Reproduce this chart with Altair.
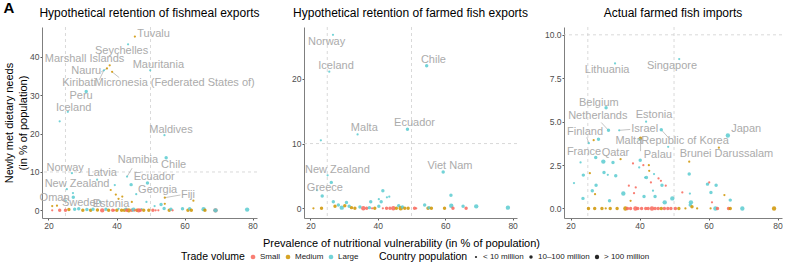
import altair as alt
import pandas as pd

FONT = "Liberation Sans"

# ---- shared categories -------------------------------------------------
trade_levels = ["Small", "Medium", "Large"]
trade_colors = ["#F8675A", "#CF9400", "#5ACBD0"]
trade_codes = {"S": "Small", "M": "Medium", "L": "Large"}
pop_levels = ["< 10 million", "10–100 million", "> 100 million"]
pop_areas = [5, 19, 44]

vuln_thresholds = [25, 50]   # prevalence cut-offs (%)
need_threshold = [10]        # newly met needs cut-off (%)

# ---- panel 1: fishmeal exports retained --------------------------------
p1_x = [45.4, 43.4, 38.0, 37.2, 36.3, 38.7, 49.9, 31.1, 25.7, 23.3, 54.1, 54.6, 43.1, 26.9,
        34.3, 25.4, 27.2, 44.3, 49.1, 39.5, 38.3, 45.8, 54.2, 62.6, 27.3, 41.7, 40.6, 39.8,
        44.5, 48.8, 51.2, 53.1, 54.2, 35.2, 25.1, 21.1, 22.5,
        21.1, 23.3, 25.0, 26.0, 27.7, 28.9, 30.1, 31.3, 32.4, 33.1, 34.4, 35.8, 36.9, 37.7,
        38.9, 40.1, 40.6, 41.5, 42.3, 42.8, 43.6, 44.5, 45.0, 46.0, 46.5, 47.4, 48.0, 49.5,
        50.7, 51.5, 54.0, 55.5, 56.0, 56.5, 59.4, 61.0, 61.5, 62.0, 65.6, 66.0, 69.1, 69.1,
        78.4, 39.3, 43.0, 45.3, 47.0, 52.3]
p1_y = [45.3, 43.3, 37.8, 37.0, 36.5, 36.1, 36.5, 31.0, 25.7, 23.2, 19.6, 13.7, 8.8, 9.7,
        8.0, 5.5, 4.5, 6.7, 7.1, 6.6, 5.3, 4.2, 3.3, 2.5, 3.4, 3.6, 3.0, 4.1,
        2.2, 2.2, 1.1, 1.5, 1.7, 2.2, 2.5, 1.1, 1.2,
        0.0, 0.0, 0.0, 0.2, 0.3, 0.4, 0.0, 0.2, 0.0, 0.3, 0.1, 0.0, 0.3, 0.0,
        0.0, 0.0, 0.4, 0.0, 0.0, 0.3, 0.0, 0.0, 0.2, 0.0, 0.0, 0.3, 0.0, 0.0,
        0.0, 0.0, 0.5, 0.0, 0.3, 0.0, 0.4, 0.0, 0.4, 0.0, 0.3, 0.0, 0.0, 0.0,
        0.2, 0.0, 0.0, 0.0, 0.0, 0.0]
p1_trade = list("MLMMLMLLLLLLLLLLLLLLMLMMLMMMMLLLMLLMM"
                "SSSMLLMLMLMSLMSMLMMLMSLMSLMMSSLMLSLMLMLMSLL"
                "SSSSS")
p1_pop = [1, 1, 1, 1, 1, 1, 1, 2, 1, 1, 1, 2, 1, 1, 1, 1, 1, 2, 2, 1, 1, 1, 1, 1, 2, 1, 1, 1,
          1, 1, 1, 2, 1, 1, 1, 1, 1,
          1, 2, 2, 2, 2, 2, 2, 2, 2, 2, 2, 3, 2, 2, 2, 2, 1, 2, 2, 2, 3, 2, 3, 2, 3, 1, 2, 2,
          2, 1, 2, 2, 2, 1, 2, 2, 2, 2, 3, 2, 3, 3, 3,
          1, 2, 1, 2, 1]

p1_labels = ["Tuvalu", "Seychelles", "Marshall Islands", "Nauru", "Kiribati",
             "Micronesia (Federated States of)", "Mauritania", "Peru", "Iceland", "Maldives",
             "Chile", "Namibia", "Norway", "Latvia", "New Zealand", "Ecuador", "Georgia",
             "Fiji", "Oman", "Sweden", "Estonia"]
p1_lab_x = [50.9, 41.5, 30.6, 31.1, 29.0, 57.1, 52.3, 29.6, 27.4, 56.0, 56.8, 46.3, 24.9,
            35.8, 28.4, 51.1, 52.1, 61.0, 21.8, 29.8, 38.4]
p1_lab_y = [45.9, 41.6, 39.4, 36.4, 33.1, 33.1, 37.9, 29.8, 26.8, 21.0, 11.8, 13.0, 11.1,
            9.8, 6.75, 8.65, 5.35, 3.9, 3.2, 2.0, 1.7]
p1_seg_from = [(34.9, 34.0), (40.8, 34.6), (35.5, 36.1), (44.6, 11.0), (58.8, 4.0)]
p1_seg_to = [(36.3, 36.5), (38.7, 36.1), (37.2, 37.0), (43.1, 8.8), (54.2, 3.3)]

# ---- panel 2: farmed fish exports retained -----------------------------
p2_x = [26.7, 25.6, 54.5, 48.8, 34.0, 23.1, 59.4, 25.1, 26.2, 22.0, 23.5, 41.5, 42.7, 43.4,
        61.7, 26.8, 30.7, 37.9, 40.3, 41.0,
        20.9, 23.3, 27.3, 28.3, 29.3, 30.2, 31.5, 32.2, 33.2, 34.7, 35.7, 36.7, 37.5, 38.3,
        39.1, 40.3, 41.5, 42.6, 43.6, 44.6, 45.5, 46.2, 46.8, 47.3, 48.0, 49.0, 50.9, 51.4,
        53.9, 54.9, 55.2, 55.9, 59.8, 61.8, 62.3, 65.3, 66.2, 69.2, 78.6]
p2_y = [26.8, 21.1, 22.0, 12.2, 11.4, 10.5, 5.6, 5.1, 4.0, 2.8, 1.9, 2.7, 1.7, 1.8,
        2.0, 1.0, 0.9, 1.0, 1.4, 1.0,
        0.0, 0.0, 0.3, 0.5, 0.1, 0.4, 0.3, 0.1, 0.0, 0.2, 0.0, 0.0, 0.1, 0.0,
        0.0, 0.3, 0.0, 0.0, 0.0, 0.0, 0.0, 0.4, 0.0, 0.2, 0.0, 0.0, 0.0, 0.0,
        0.5, 0.0, 0.1, 0.0, 0.0, 0.4, 0.0, 0.3, 0.0, 0.3, 0.1]
p2_trade = list("LLLLLLLLLLLLLLLLLLLL"
                "MMMLLMLMMLSSLSMLSSSSMLMLMMSSLMLMMLSLSLL")
p2_pop = [1, 1, 2, 2, 1, 1, 2, 1, 2, 1, 2, 2, 1, 1, 2, 2, 2, 2, 1, 2,
          1, 2, 2, 2, 3, 2, 2, 2, 2, 2, 3, 2, 2, 1, 2, 2, 1, 2, 2, 3, 2, 2, 3, 2, 2, 2, 2, 1,
          2, 2, 2, 2, 2, 3, 2, 2, 2, 3, 3]

p2_labels = ["Norway", "Iceland", "Chile", "Ecuador", "Malta", "Viet Nam", "New Zealand",
             "Greece"]
p2_lab_x = [24.8, 27.6, 56.5, 50.9, 36.0, 61.4, 28.0, 24.3]
p2_lab_y = [25.7, 22.0, 22.9, 13.2, 12.35, 6.5, 5.9, 3.1]

# ---- panel 3: actual farmed fish imports -------------------------------
p3_x = [32.9, 51.5, 30.3, 31.0, 41.9, 34.1, 25.3, 40.1, 40.3, 46.3, 65.6, 63.0, 26.7, 28.1,
        48.3,
        22.9, 21.0, 23.7, 23.6, 25.6, 26.3, 27.1, 27.4, 27.3, 29.5, 32.3, 29.7, 30.8, 33.1,
        34.5, 35.3, 31.3, 36.9, 37.4, 38.4, 38.9, 39.9, 40.2, 41.1, 41.6, 42.0, 41.3, 42.8,
        43.3, 43.9, 44.5, 44.2, 45.5, 46.2, 46.5, 47.6, 47.3, 49.5, 52.4, 54.4, 54.4, 54.6,
        54.9, 59.7, 60.7, 60.2, 62.2, 61.0, 64.6, 66.3, 38.1, 42.7,
        25.2, 27.0, 29.1, 30.2, 31.5, 33.5, 35.9, 36.5, 37.4, 38.8, 39.5, 40.6, 41.8, 42.5,
        43.6, 44.5, 45.4, 46.3, 47.2, 48.2, 49.1, 50.4, 51.4, 53.3, 54.7, 55.2, 56.7, 60.6,
        62.0, 62.6, 65.8, 66.3, 69.8, 79.0]
p3_y = [8.35, 8.6, 5.8, 4.5, 5.0, 4.5, 3.76, 4.0, 4.05, 4.53, 4.2, 3.5, 3.93, 3.99,
        3.55,
        2.65, 1.46, 1.92, 0.58, 2.03, 1.02, 0.82, 1.34, 2.94, 2.7, 2.65, 2.07, 1.94, 1.88,
        2.84, 0.86, 0.44, 1.31, 0.44, 0.88, 1.21, 2.36, 2.78, 2.49, 1.78, 1.78, 0.69, 2.17,
        1.5, 1.02, 0.69, 1.98, 1.73, 1.59, 1.34, 1.31, 0.35, 0.58, 0.92, 1.98, 2.69, 0.86,
        0.35, 1.4, 0.92, 1.5, 1.34, 0.35, 0.77, 0.48, 2.59, 2.49,
        0, 0, 0, 0, 0, 0, 0, 0, 0, 0, 0, 0, 0, 0,
        0, 0, 0, 0, 0, 0, 0, 0, 0, 0, 0.2, 0.1, 0, 0,
        0, 0, 0, 0, 0, 0]
p3_trade = list("LLLLLLLLMLLMMLL"
                "LLLLMLMLLLLLLL"
                "MLLSMSSLLSLLLM"
                "SLLLSSLSLLSLML"
                "LLLSLSMLSM"
                "MMMMMMMSSSSSSS"
                "SSSMSSSSMMLMMM"
                "LSSMLM")
p3_pop = [1, 1, 2, 2, 1, 1, 1, 2, 2, 2, 3, 1, 1, 2,
          1,
          1, 1, 2, 2, 1, 2, 1, 2, 2, 3, 2, 2, 1, 2,
          1, 3, 2, 1, 1, 1, 1, 1, 2, 1, 1, 2, 2, 1,
          1, 1, 2, 1, 1, 1, 2, 1, 3, 3, 1, 2, 1, 1,
          3, 2, 2, 1, 2, 1, 1, 2, 1, 1,
          2, 2, 2, 1, 2, 2, 3, 2, 2, 3, 2, 2, 2, 2,
          3, 2, 2, 2, 2, 2, 2, 2, 2, 1, 2, 2, 1, 1,
          3, 2, 2, 2, 3, 3]

p3_labels = ["Lithuania", "Singapore", "Belgium", "Netherlands", "Estonia", "Israel",
             "Finland", "Malta", "Republic of Korea", "Japan", "France", "Qatar", "Palau",
             "Brunei Darussalam"]
p3_lab_x = [30.6, 49.4, 28.2, 27.9, 44.2, 41.5, 24.2, 36.9, 53.2, 70.9, 23.9, 33.0, 45.3, 65.2]
p3_lab_y = [7.96, 8.2, 6.1, 5.3, 5.39, 4.57, 4.38, 3.86, 3.86, 4.57, 3.26, 3.22, 3.09, 3.13]
p3_seg_from = [(28.9, 4.95), (37.3, 4.55), (24.7, 4.09), (48.5, 4.05), (40.3, 3.3)]
p3_seg_to = [(31.0, 4.5), (34.1, 4.5), (25.3, 3.76), (46.3, 4.53), (40.3, 3.95)]

X_DOMAIN = [18.1, 81.3]

color_legend = alt.Legend(
    title="Trade volume", orient="none", legendX=139, legendY=226,
    direction="horizontal", titleOrient="left", symbolType="circle", symbolSize=22,
    labelFontSize=8, titleFontSize=10.5, titleFontWeight="normal", titleColor="black",
    labelColor="#1A1A1A", columnPadding=3, labelOffset=3, titlePadding=4,
    symbolOpacity=0.85, symbolStrokeWidth=0,
)
size_legend = alt.Legend(
    title="Country population", orient="none", legendX=337, legendY=226,
    direction="horizontal", titleOrient="left", symbolType="circle",
    symbolFillColor="black", symbolStrokeColor="black", symbolStrokeWidth=0,
    labelFontSize=8, titleFontSize=10.5, titleFontWeight="normal", titleColor="black",
    labelColor="#1A1A1A", columnPadding=3, labelOffset=3, titlePadding=4,
)


def make_panel(xs, ys, trade, pop, labels, lab_x, lab_y, seg_from, seg_to,
               y_domain, y_ticks, y_format, title, width, x_title, y_title,
               x_title_x=None):
    pts = pd.DataFrame({
        "x": xs, "y": ys,
        "trade": [trade_codes[t] for t in trade],
        "pop": [pop_levels[p - 1] for p in pop],
    })
    labs = pd.DataFrame({"x": lab_x, "y": lab_y, "label": labels})

    x_axis_kw = dict(values=[20, 40, 60, 80], format="d", titlePadding=8)
    if x_title_x is not None:
        x_axis_kw["titleX"] = x_title_x
    y_axis_kw = dict(values=y_ticks, format=y_format, titlePadding=1)

    def xenc():
        return alt.X("x:Q", scale=alt.Scale(domain=X_DOMAIN, nice=False, zero=False),
                     axis=alt.Axis(**x_axis_kw), title=x_title)

    def yenc():
        return alt.Y("y:Q", scale=alt.Scale(domain=y_domain, nice=False, zero=False),
                     axis=alt.Axis(**y_axis_kw), title=y_title)

    vlines = alt.Chart(pd.DataFrame({"x": vuln_thresholds})).mark_rule(
        strokeDash=[3, 3], color="#CFCFCF", strokeWidth=0.8
    ).encode(x=xenc())
    hlines = alt.Chart(pd.DataFrame({"y": need_threshold})).mark_rule(
        strokeDash=[3, 3], color="#CFCFCF", strokeWidth=0.8
    ).encode(y=yenc())

    points = alt.Chart(pts).mark_circle(opacity=0.85, strokeWidth=0).encode(
        x=xenc(), y=yenc(),
        color=alt.Color("trade:N", scale=alt.Scale(domain=trade_levels, range=trade_colors),
                        legend=color_legend),
        size=alt.Size("pop:O", scale=alt.Scale(domain=pop_levels, range=pop_areas),
                      legend=size_legend),
    )
    texts = alt.Chart(labs).mark_text(
        font=FONT, fontSize=11, color="#ABABAB", align="center", baseline="middle"
    ).encode(x=xenc(), y=yenc(), text="label:N")

    layers = [vlines, hlines]
    if seg_from:
        segs = pd.DataFrame({
            "x": [a[0] for a in seg_from], "y": [a[1] for a in seg_from],
            "x2": [b[0] for b in seg_to], "y2": [b[1] for b in seg_to],
        })
        layers.append(alt.Chart(segs).mark_rule(color="#ABABAB", strokeWidth=0.7).encode(
            x=xenc(), y=yenc(), x2="x2:Q", y2="y2:Q"))
    layers += [points, texts]

    return alt.layer(*layers).properties(
        width=width, height=191,
        title=alt.TitleParams(text=title, fontSize=12, fontWeight="normal", font=FONT,
                              anchor="middle", frame="group", baseline="alphabetic",
                              offset=-2, color="black"),
    )


panel1 = make_panel(p1_x, p1_y, p1_trade, p1_pop, p1_labels, p1_lab_x, p1_lab_y,
                    p1_seg_from, p1_seg_to, [-2.0, 47.8], [0, 10, 20, 30, 40], "d",
                    "Hypothetical retention of fishmeal exports", 215, None,
                    ["Newly met dietary needs", "(in % of population)"])
panel2 = make_panel(p2_x, p2_y, p2_trade, p2_pop, p2_labels, p2_lab_x, p2_lab_y,
                    [], [], [-1.5, 28.0], [0, 10, 20], "d",
                    "Hypothetical retention of farmed fish exports", 213,
                    "Prevalence of nutritional vulnerability (in % of population)", None,
                    x_title_x=97)
panel3 = make_panel(p3_x, p3_y, p3_trade, p3_pop, p3_labels, p3_lab_x, p3_lab_y,
                    p3_seg_from, p3_seg_to, [-0.55, 10.45], [0, 2.5, 5, 7.5, 10], ".1f",
                    "Actual farmed fish imports", 218, None, None)

chart = alt.hconcat(
    panel1, panel2, panel3, spacing=47, bounds="flush",
    title=alt.TitleParams(text="A", anchor="start", frame="bounds", fontSize=15,
                          fontWeight="bold", font=FONT, color="black",
                          baseline="alphabetic", offset=-21),
).properties(
    padding={"left": 3, "top": 0, "right": 0, "bottom": 0}
).configure(font=FONT).configure_view(stroke=None).configure_axis(
    domainColor="#7F7F7F", domainWidth=1, tickColor="#333333", tickSize=2, tickWidth=0.8,
    labelColor="#4D4D4D", labelFontSize=8.5, labelPadding=1, labelFont=FONT,
    titleFont=FONT, titleFontSize=11, titleFontWeight="normal", titleColor="black",
    titleLineHeight=14, grid=False,
)

chart.save("out.html", embed_options={"renderer": "svg", "actions": False})
